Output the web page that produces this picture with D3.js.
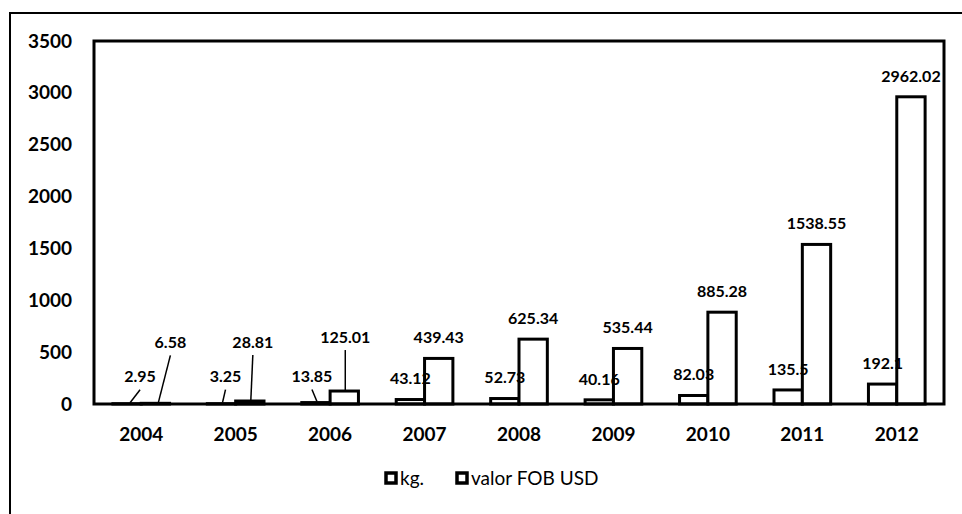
<!DOCTYPE html>
<html>
<head>
<meta charset="utf-8">
<script src="https://cdn.jsdelivr.net/npm/d3@7"></script>
<style>
  html, body { margin: 0; padding: 0; background: #fff; }
  svg { display: block; }
  text { font-family: Lato, "Open Sans", sans-serif; fill: #000; font-weight: bold; }
</style>
</head>
<body>
<svg id="chart" width="962" height="514"></svg>
<script>
// Exports per year: weight (kg.) and FOB value (USD)
const years = ["2004", "2005", "2006", "2007", "2008", "2009", "2010", "2011", "2012"];
const seriesNames = ["kg.", "valor FOB USD"];
const kgValues = [2.95, 3.25, 13.85, 43.12, 52.73, 40.16, 82.03, 135.5, 192.1];
const fobValues = [6.58, 28.81, 125.01, 439.43, 625.34, 535.44, 885.28, 1538.55, 2962.02];
const kgLabels = ["2.95", "3.25", "13.85", "43.12", "52.73", "40.16", "82.03", "135.5", "192.1"];
const fobLabels = ["6.58", "28.81", "125.01", "439.43", "625.34", "535.44", "885.28", "1538.55", "2962.02"];
const yTicks = [0, 500, 1000, 1500, 2000, 2500, 3000, 3500];

// Labels of the smallest bars are lifted off the baseline and tied back with a leader line
const liftedLabels = {
  "kg.|2004": { dx: 13, dy: -6 },
  "valor FOB USD|2004": { dx: 15, dy: -40 },
  "kg.|2005": { dx: 4, dy: -6 },
  "valor FOB USD|2005": { dx: 3, dy: -38 },
  "kg.|2006": { dx: -4, dy: -5 },
  "valor FOB USD|2006": { dx: 1, dy: -33 }
};

const svg = d3.select("#chart");
const plot = { left: 94, top: 41, right: 944, bottom: 404 };

const rows = years.map((year, i) => ({
  year,
  values: [
    { series: seriesNames[0], value: kgValues[i], label: kgLabels[i] },
    { series: seriesNames[1], value: fobValues[i], label: fobLabels[i] }
  ]
}));

const x0 = d3.scaleBand()
  .domain(years)
  .range([plot.left, plot.right])
  .paddingInner(0.4)
  .paddingOuter(0.2);

const x1 = d3.scaleBand()
  .domain(seriesNames)
  .range([0, x0.bandwidth()]);

const y = d3.scaleLinear()
  .domain([0, 3500])
  .range([plot.bottom, plot.top]);

// Outer frame
svg.append("rect")
  .attr("x", 10).attr("y", 13)
  .attr("width", 980).attr("height", 520)
  .attr("fill", "none").attr("stroke", "#000").attr("stroke-width", 2);

// Y axis labels
const yAxis = d3.axisLeft(y).tickValues(yTicks).tickFormat(d3.format("d")).tickSize(0).tickPadding(22);
const gy = svg.append("g")
  .attr("transform", `translate(${plot.left},0)`)
  .call(yAxis);
gy.select(".domain").remove();
gy.selectAll("text")
  .style("font-family", "Lato, sans-serif")
  .style("font-weight", "bold")
  .style("font-size", "19px")
  .attr("fill", "#000");

// X axis labels
const xAxis = d3.axisBottom(x0).tickSize(0).tickPadding(24);
const gx = svg.append("g")
  .attr("transform", `translate(0,${plot.bottom})`)
  .call(xAxis);
gx.select(".domain").remove();
gx.selectAll("text")
  .style("font-family", "Lato, sans-serif")
  .style("font-weight", "bold")
  .style("font-size", "19px")
  .attr("fill", "#000");

// Bars
const groups = svg.append("g").selectAll("g")
  .data(rows)
  .join("g")
  .attr("transform", d => `translate(${x0(d.year)},0)`);

groups.selectAll("rect")
  .data(d => d.values)
  .join("rect")
  .attr("x", d => x1(d.series))
  .attr("y", d => y(d.value))
  .attr("width", x1.bandwidth())
  .attr("height", d => y(0) - y(d.value))
  .attr("fill", "#fff")
  .attr("stroke", "#000")
  .attr("stroke-width", 3)
  .attr("stroke-linejoin", "miter");

// Plot area border
svg.append("rect")
  .attr("x", plot.left).attr("y", plot.top)
  .attr("width", plot.right - plot.left)
  .attr("height", plot.bottom - plot.top)
  .attr("fill", "none").attr("stroke", "#000").attr("stroke-width", 3);

// Value labels, on top of the bars
const labelData = rows.flatMap(r => r.values.map(v => {
  const cx = x0(r.year) + x1(v.series) + x1.bandwidth() / 2;
  const top = y(v.value);
  const lift = liftedLabels[v.series + "|" + r.year];
  return {
    ...v, year: r.year, cx, top,
    lx: cx + (lift ? lift.dx : 0),
    ly: top - 21 + (lift ? lift.dy : 0),
    lifted: !!lift
  };
}));

svg.append("g").selectAll("line")
  .data(labelData.filter(d => d.lifted))
  .join("line")
  .attr("x1", d => d.lx).attr("y1", d => d.ly + 13)
  .attr("x2", d => d.cx + (d.lx > d.cx + 8 ? 3 : 1)).attr("y2", d => d.top - 1)
  .attr("stroke", "#000").attr("stroke-width", 1.5);

svg.append("g").selectAll("text")
  .data(labelData)
  .join("text")
  .attr("x", d => d.lx)
  .attr("y", d => d.ly)
  .attr("dy", "0.36em")
  .attr("text-anchor", "middle")
  .style("font-size", "16px")
  .text(d => d.label);

// Legend
const legendItems = [
  { name: seriesNames[0], x: 385 },
  { name: seriesNames[1], x: 456 }
];
const legend = svg.append("g").selectAll("g")
  .data(legendItems)
  .join("g")
  .attr("transform", d => `translate(${d.x},478)`);
legend.append("rect")
  .attr("x", 1).attr("y", -5)
  .attr("width", 10).attr("height", 10)
  .attr("fill", "#fff").attr("stroke", "#000").attr("stroke-width", 3.5);
legend.append("text")
  .attr("x", 15).attr("y", 0).attr("dy", "0.36em")
  .style("font-size", "19px")
  .style("font-weight", "normal")
  .text(d => d.name);
</script>
</body>
</html>
